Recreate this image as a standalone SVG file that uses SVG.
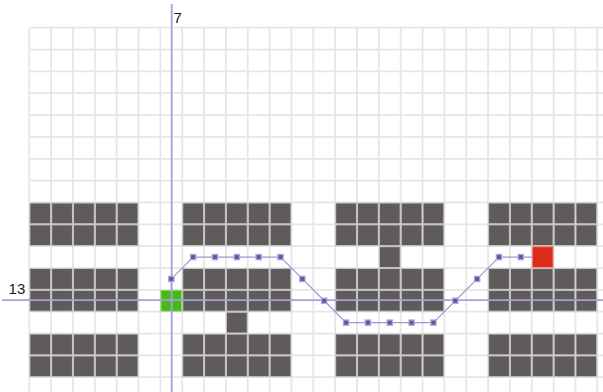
<svg xmlns="http://www.w3.org/2000/svg" xmlns:xlink="http://www.w3.org/1999/xlink" width="603" height="392" viewBox="0 0 603 392">
<style>
.gl{stroke:#e6e6e6;stroke-width:1.6;fill:none}
.wall{fill:#5f5b5a;stroke:#c4c4c4;stroke-width:0.9}
.start{fill:#46ba14;stroke:#8fd86a;stroke-width:0.9}
.goal{fill:#dc2b1b;stroke:#ee8a80;stroke-width:0.9}
.route{fill:none;stroke:#9c97d8;stroke-width:1.1}
.mo{fill:#aaa6e2}
.mi{fill:#5e5b8e}
.axis{stroke:#a59fe2;stroke-width:1.8}
.lbl{font-family:"Liberation Sans",Arial,sans-serif;font-size:15px;fill:#1a1a1a}
</style>
<defs>
<g id="blk">
<rect class="wall" x="0.5" y="0.5" width="19" height="19"/>
<rect class="wall" x="20.5" y="0.5" width="19" height="19"/>
<rect class="wall" x="40.5" y="0.5" width="19" height="19"/>
<rect class="wall" x="60.5" y="0.5" width="19" height="19"/>
<rect class="wall" x="80.5" y="0.5" width="19" height="19"/>
<rect class="wall" x="0.5" y="20.5" width="19" height="19"/>
<rect class="wall" x="20.5" y="20.5" width="19" height="19"/>
<rect class="wall" x="40.5" y="20.5" width="19" height="19"/>
<rect class="wall" x="60.5" y="20.5" width="19" height="19"/>
<rect class="wall" x="80.5" y="20.5" width="19" height="19"/>
</g>
<g id="mk">
<rect class="mo" x="-3" y="-3" width="6" height="6"/>
<rect class="mi" x="-1.8" y="-1.8" width="3.6" height="3.6"/>
</g>
</defs>
<rect width="603" height="392" fill="#ffffff"/>
<g transform="translate(29.3 27.7) scale(1.0923)">
<g id="grid">
<path class="gl" d="M0 0V334M20 0V334M40 0V334M60 0V334M80 0V334M100 0V334M120 0V334M140 0V334M160 0V334M180 0V334M200 0V334M220 0V334M240 0V334M260 0V334M280 0V334M300 0V334M320 0V334M340 0V334M360 0V334M380 0V334M400 0V334M420 0V334M440 0V334M460 0V334M480 0V334M500 0V334M520 0V334"/>
<path class="gl" d="M0 0H526M0 20H526M0 40H526M0 60H526M0 80H526M0 100H526M0 120H526M0 140H526M0 160H526M0 180H526M0 200H526M0 220H526M0 240H526M0 260H526M0 280H526M0 300H526M0 320H526"/>
</g>
<g id="obstacles">
<use xlink:href="#blk" x="0" y="160"/>
<use xlink:href="#blk" x="140" y="160"/>
<use xlink:href="#blk" x="280" y="160"/>
<use xlink:href="#blk" x="420" y="160"/>
<use xlink:href="#blk" x="0" y="220"/>
<use xlink:href="#blk" x="140" y="220"/>
<use xlink:href="#blk" x="280" y="220"/>
<use xlink:href="#blk" x="420" y="220"/>
<use xlink:href="#blk" x="0" y="280"/>
<use xlink:href="#blk" x="140" y="280"/>
<use xlink:href="#blk" x="280" y="280"/>
<use xlink:href="#blk" x="420" y="280"/>
<rect class="wall" x="180.5" y="260.5" width="19" height="19"/>
<rect class="wall" x="320.5" y="200.5" width="19" height="19"/>
</g>
<g id="connectors">
<polyline class="route" points="130,250 130,230 150,210 170,210 190,210 210,210 230,210 250,230 270,250 290,270 310,270 330,270 350,270 370,270 390,250 410,230 430,210 450,210 470,210"/>
</g>
<g id="start"><rect class="start" x="120.5" y="240.5" width="19" height="19"/></g>
<g id="goal"><rect class="goal" x="460.5" y="200.5" width="19" height="19"/></g>
</g>
<g id="axes">
<line class="axis" x1="171.7" y1="4" x2="171.7" y2="392"/>
<line class="axis" x1="2" y1="300.2" x2="603" y2="300.2"/>
</g>
<g id="markers" transform="translate(29.3 27.7) scale(1.0923)">
<use xlink:href="#mk" x="130" y="230"/>
<use xlink:href="#mk" x="150" y="210"/>
<use xlink:href="#mk" x="170" y="210"/>
<use xlink:href="#mk" x="190" y="210"/>
<use xlink:href="#mk" x="210" y="210"/>
<use xlink:href="#mk" x="230" y="210"/>
<use xlink:href="#mk" x="250" y="230"/>
<use xlink:href="#mk" x="270" y="250"/>
<use xlink:href="#mk" x="290" y="270"/>
<use xlink:href="#mk" x="310" y="270"/>
<use xlink:href="#mk" x="330" y="270"/>
<use xlink:href="#mk" x="350" y="270"/>
<use xlink:href="#mk" x="370" y="270"/>
<use xlink:href="#mk" x="390" y="250"/>
<use xlink:href="#mk" x="410" y="230"/>
<use xlink:href="#mk" x="430" y="210"/>
<use xlink:href="#mk" x="450" y="210"/>
</g>
<g id="labels">
<text class="lbl" x="173.5" y="22.7">7</text>
<text class="lbl" x="8.6" y="294.3">13</text>
</g>
</svg>
